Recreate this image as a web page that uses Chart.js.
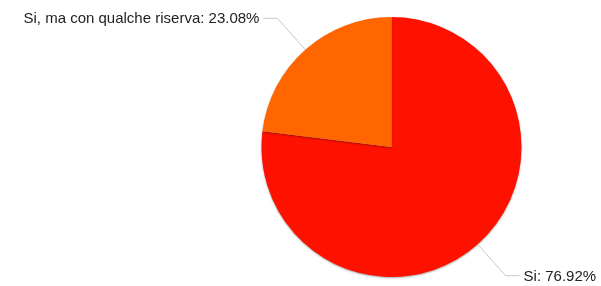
<!DOCTYPE html>
<html>
<head>
<meta charset="utf-8">
<script src="https://cdn.jsdelivr.net/npm/chart.js@4/dist/chart.umd.min.js"></script>
<style>
  html, body { margin: 0; padding: 0; background: #fff; }
  #wrap { width: 601px; height: 286px; }
</style>
</head>
<body>
<div id="wrap"><canvas id="torta"></canvas></div>
<script>
const categorie = ['Si', 'Si, ma con qualche riserva'];
const percentuali = [76.92, 23.08];
const colori = ['#ff1100', '#ff6600'];

// shadow under the pie
const ombra = {
    id: 'ombra',
    beforeDatasetsDraw(chart) {
        const c = chart.ctx;
        c.save();
        c.shadowColor = 'rgba(0,0,0,0.35)';
        c.shadowBlur = 2;
        c.shadowOffsetY = 1;
    },
    afterDatasetsDraw(chart) {
        chart.ctx.restore();
    }
};

// labels with leader lines
const etichette = {
    id: 'etichette',
    afterDraw(chart) {
        const c = chart.ctx;
        const meta = chart.getDatasetMeta(0);
        c.save();
        c.font = '15px "Liberation Sans", Arial, sans-serif';
        c.fillStyle = '#222';
        c.textBaseline = 'middle';
        meta.data.forEach((arc, i) => {
            const mid = (arc.startAngle + arc.endAngle) / 2;
            const r = arc.outerRadius;
            const cos = Math.cos(mid), sin = Math.sin(mid);
            const x0 = arc.x + cos * r, y0 = arc.y + sin * r;
            const x1 = arc.x + cos * (r + 42), y1 = arc.y + sin * (r + 42);
            const dir = cos >= 0 ? 1 : -1;
            const x2 = x1 + dir * 14;
            c.strokeStyle = '#c8c8c8';
            c.lineWidth = 1;
            c.beginPath();
            c.moveTo(x0, y0);
            c.lineTo(x1, y1);
            c.lineTo(x2, y1);
            c.stroke();
            c.textAlign = dir > 0 ? 'left' : 'right';
            const testo = categorie[i] + ': ' + percentuali[i].toFixed(2) + '%';
            c.fillText(testo, x2 + dir * 4, y1 + 1);
        });
        c.restore();
    }
};

new Chart(document.getElementById('torta'), {
    type: 'pie',
    data: {
        labels: categorie,
        datasets: [{
            data: percentuali,
            backgroundColor: colori,
            borderWidth: 0
        }]
    },
    options: {
        responsive: true,
        maintainAspectRatio: false,
        animation: false,
        layout: { padding: { left: 261.5, right: 79.5, top: 17, bottom: 9 } },
        plugins: {
            legend: { display: false },
            tooltip: { enabled: false }
        }
    },
    plugins: [ombra, etichette]
});
</script>
</body>
</html>
